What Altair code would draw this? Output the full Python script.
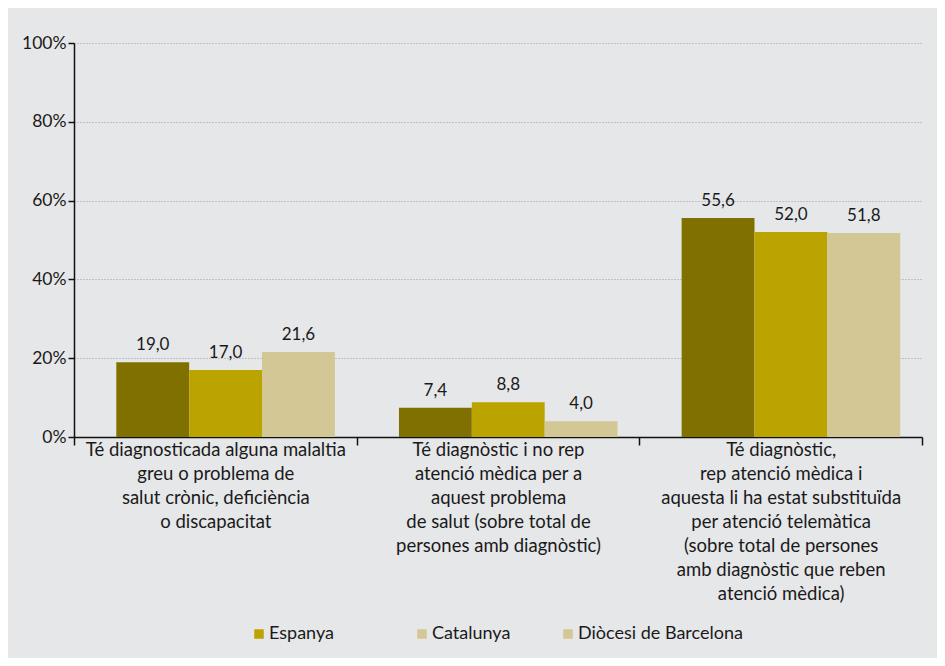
import altair as alt
import pandas as pd

categories = [
    "Té diagnosticada alguna malaltia|greu o problema de|salut crònic, deficiència|o discapacitat",
    "Té diagnòstic i no rep|atenció mèdica per a|aquest problema|de salut (sobre total de|persones amb diagnòstic)",
    "Té diagnòstic,|rep atenció mèdica i|aquesta li ha estat substituïda|per atenció telemàtica|(sobre total de persones|amb diagnòstic que reben|atenció mèdica)",
]
series = ["Espanya", "Catalunya", "Diòcesi de Barcelona"]
espanya = [19.0, 7.4, 55.6]
catalunya = [17.0, 8.8, 52.0]
diocesi = [21.6, 4.0, 51.8]

bar_colors = ["#807000", "#bba400", "#d3c795"]
legend_colors = ["#bba400", "#d3c795", "#d3c795"]

rows = []
for s, vals in zip(series, [espanya, catalunya, diocesi]):
    for c, v in zip(categories, vals):
        rows.append({"cat": c, "series": s, "value": v})
df = pd.DataFrame(rows)

FONT = "Lato"
W, H = 848, 394

x = alt.X("cat:N", sort=categories, title=None,
          scale=alt.Scale(paddingInner=0, paddingOuter=0),
          axis=alt.Axis(labelExpr="split(datum.label, '|')", labelAngle=0,
                        labelFontSize=18.5, labelColor="#1a1a1a", labelFont=FONT,
                        labelLineHeight=24, labelPadding=-5, labelBaseline="top",
                        tickBand="extent", tickSize=8, tickColor="#111", tickWidth=1.5,
                        domainColor="#111", domainWidth=1.5, labelLimit=400))
xoff = alt.XOffset("series:N", sort=series,
                   scale=alt.Scale(paddingInner=0, paddingOuter=0.44, align=0.66))
yscale = alt.Scale(domain=[0, 100], nice=False)
y = alt.Y("value:Q", title=None, scale=yscale,
          axis=alt.Axis(values=[0, 20, 40, 60, 80, 100], labelExpr="datum.value + '%'",
                        labelFontSize=17.5, labelFont=FONT, labelColor="#1a1a1a",
                        tickSize=6, tickColor="#111", tickWidth=1.5, labelPadding=2,
                        domainColor="#111", domainWidth=1.5,
                        grid=True, gridColor="#9a9a9a", gridDash=[1, 2], gridWidth=1))

base = alt.Chart(df)

bars = base.mark_bar().encode(
    x=x, xOffset=xoff, y=y,
    color=alt.Color("series:N", sort=series, scale=alt.Scale(domain=series, range=bar_colors), legend=None),
)

labels = base.transform_calculate(
    lab="replace(format(datum.value, '.1f'), '.', ',')"
).mark_text(baseline="bottom", dy=-8, fontSize=17, font=FONT, color="#1a1a1a").encode(
    x=x, xOffset=xoff, y=y, text="lab:N"
)


def legend_part(names, cols, lx):
    return base.transform_filter(
        alt.FieldOneOfPredicate(field="series", oneOf=names)
    ).transform_calculate(zero="0").mark_bar(opacity=1).encode(
        x=x, xOffset=xoff,
        y=alt.Y("zero:Q", title=None),
        y2=alt.Y2("zero:Q"),
        color=alt.Color("series:N", sort=names,
                        scale=alt.Scale(domain=names, range=cols),
                        legend=alt.Legend(title=None, orient="none", direction="horizontal",
                                          legendX=lx, legendY=582,
                                          symbolType="square", symbolSize=90, symbolStrokeWidth=0,
                                          symbolOpacity=1, labelLimit=400,
                                          labelFontSize=18, labelFont=FONT, labelColor="#1a1a1a",
                                          labelOffset=1, columnPadding=48)),
    )


legend_a = legend_part(series[:1], legend_colors[:1], 176)
legend_b = legend_part(series[1:], legend_colors[1:], 339)

chart = alt.layer(bars, labels, legend_a, legend_b).resolve_scale(color="independent").resolve_legend(color="independent").properties(
    width=W, height=H,
    padding={"left": 66, "top": 35, "right": 15, "bottom": 221},
    autosize=alt.AutoSizeParams(type="none"),
).configure(background="#e6e7e9").configure_view(stroke=None)

chart.save("out.html", embed_options={"renderer": "svg", "actions": False})
